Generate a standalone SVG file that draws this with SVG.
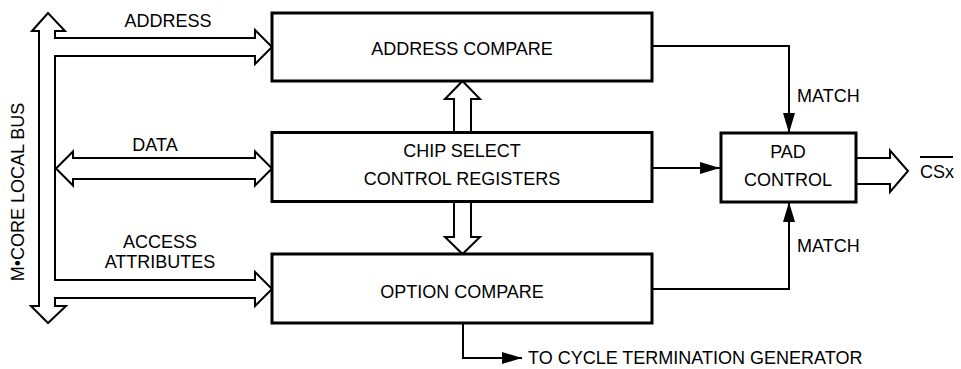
<svg xmlns="http://www.w3.org/2000/svg" width="961" height="369" viewBox="0 0 961 369">
<style>
.box{fill:#fff;stroke:#000;stroke-width:3}
.bus{fill:#fff;stroke:#000;stroke-width:2;stroke-linejoin:miter}
.ln{fill:none;stroke:#000;stroke-width:2}
text{font-family:"Liberation Sans",Arial,sans-serif;font-size:18px;fill:#000}
.c{text-anchor:middle}
</style>
<defs>
<marker id="ah" viewBox="0 0 20 12" refX="20" refY="6" markerWidth="20" markerHeight="12" markerUnits="userSpaceOnUse" orient="auto">
<path d="M0,0 L20,6 L0,12 Z" fill="#000"/>
</marker>
</defs>
<g id="connectors">
<path class="bus" d="M32,31 L48,13 L65,31 L55,31 L55,38 L255,38 L255,30 L272,47 L255,64 L255,56 L55,56 L55,280 L255,280 L255,272 L272,289 L255,306 L255,298 L55,298 L55,306 L66,306 L48,323 L31,306 L39,306 L39,31 Z"/>
<path class="bus" d="M56,168.5 L73,151.5 L73,158 L255,158 L255,151.5 L272,168.5 L255,185.5 L255,179 L73,179 L73,185.5 Z"/>
<path class="bus" d="M454,132.5 L454,99 L445,99 L462.5,81 L480,99 L471,99 L471,132.5"/>
<path class="bus" d="M454,201.5 L454,237 L445,237 L462.5,254 L480,237 L471,237 L471,201.5"/>
<path class="bus" d="M856,158 L890,158 L890,150.5 L908,171 L890,192 L890,184 L856,184"/>
<path class="ln" d="M652,46 L789,46 L789,133" marker-end="url(#ah)"/>
<path class="ln" d="M652,289 L789,289 L789,202" marker-end="url(#ah)"/>
<path class="ln" d="M652,168 L720,168" marker-end="url(#ah)"/>
<path class="ln" d="M463,323 L463,358 L522,358" marker-end="url(#ah)"/>
</g>
<g id="address-compare">
<rect class="box" x="272" y="13" width="380" height="68"/>
<text class="c" x="462" y="55">ADDRESS COMPARE</text>
</g>
<g id="chip-select">
<rect class="box" x="272" y="132.5" width="380" height="69"/>
<text class="c" x="462" y="157">CHIP SELECT</text>
<text class="c" x="462" y="185">CONTROL REGISTERS</text>
</g>
<g id="option-compare">
<rect class="box" x="272" y="254" width="380" height="69"/>
<text class="c" x="462" y="298">OPTION COMPARE</text>
</g>
<g id="pad-control">
<rect class="box" x="721" y="133" width="135" height="69"/>
<text class="c" x="788" y="158">PAD</text>
<text class="c" x="788" y="186">CONTROL</text>
</g>
<g id="labels">
<text class="c" x="168" y="27">ADDRESS</text>
<text class="c" x="155" y="151">DATA</text>
<text class="c" x="160" y="248">ACCESS</text>
<text class="c" x="160" y="268">ATTRIBUTES</text>
<text x="797" y="102">MATCH</text>
<text x="797" y="252">MATCH</text>
<text x="920" y="178">CSx</text>
<line class="ln" x1="920" y1="157" x2="953" y2="157" stroke-width="1.5"/>
<text x="528" y="364">TO CYCLE TERMINATION GENERATOR</text>
<text class="c" transform="translate(24,192) rotate(-90)">M•CORE LOCAL BUS</text>
</g>
</svg>
